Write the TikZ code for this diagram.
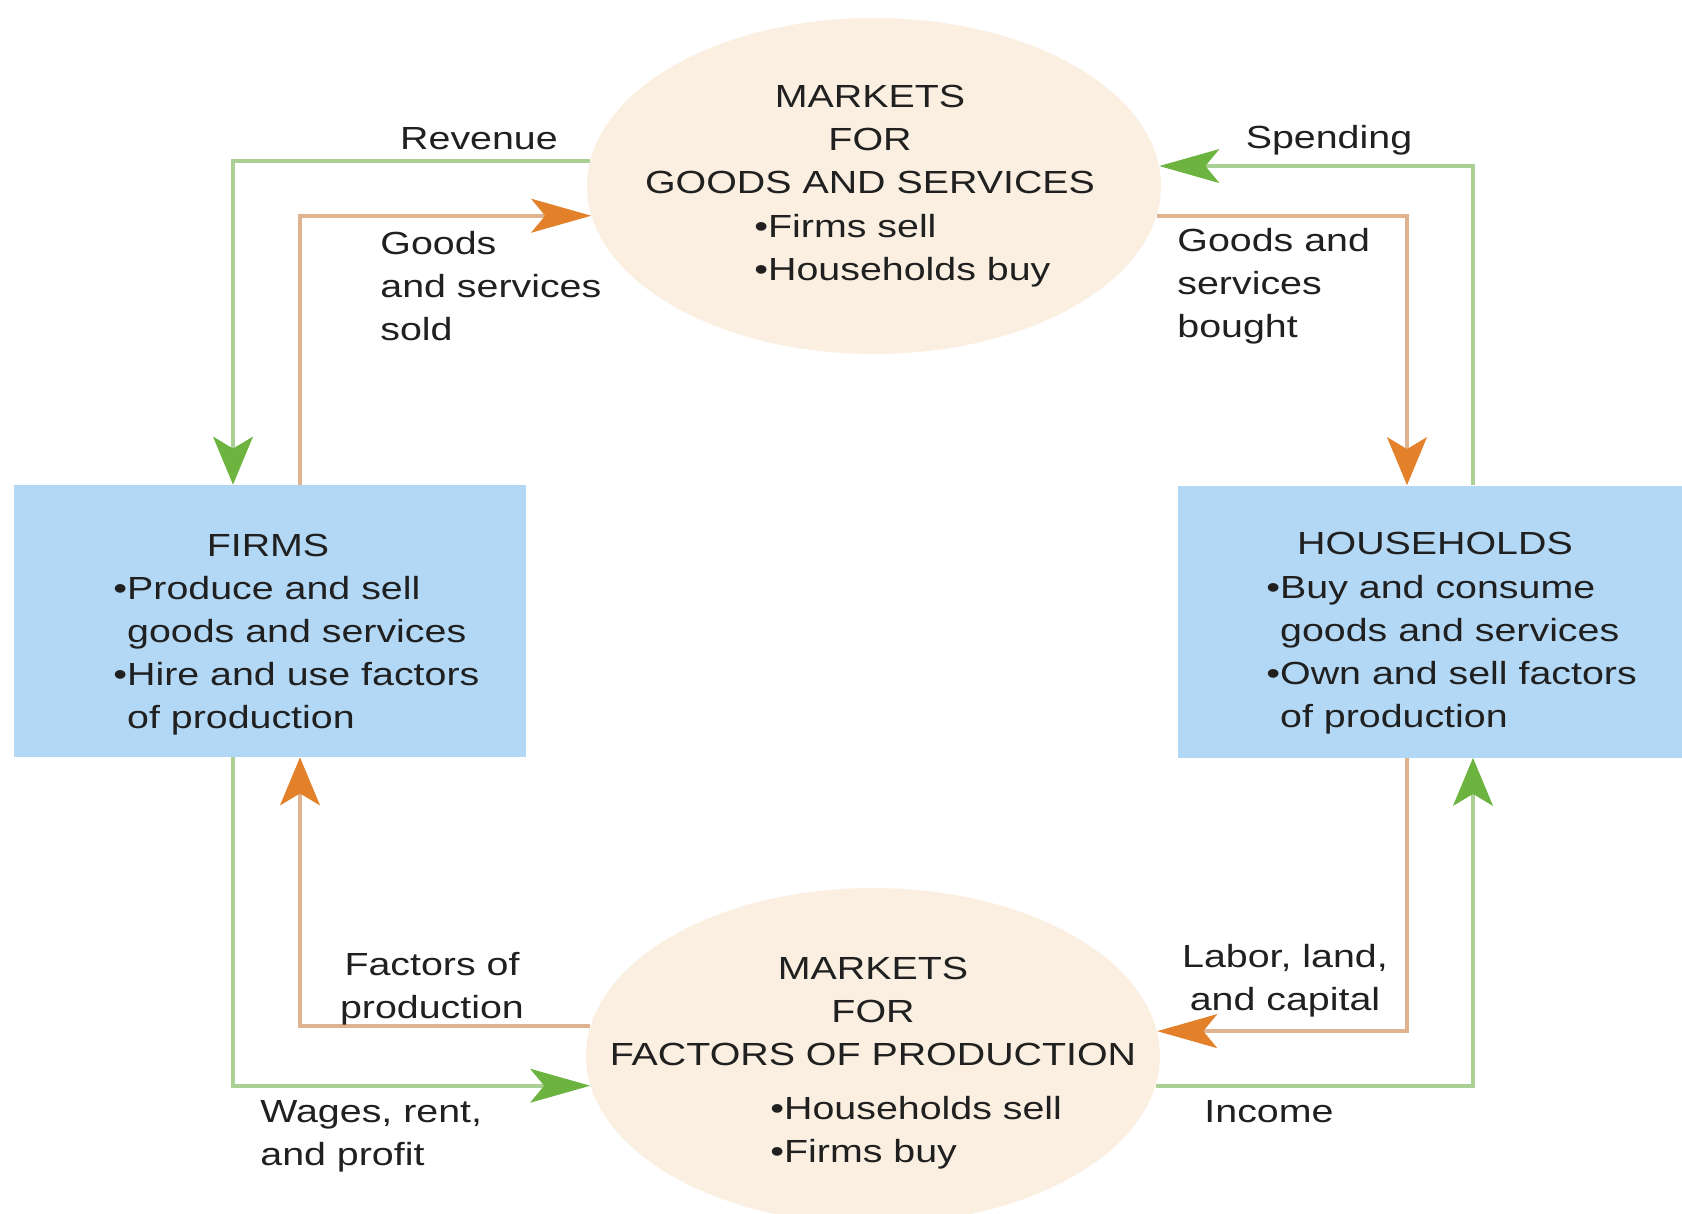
\documentclass[tikz,border=0pt]{standalone}
\usepackage{fontspec}
\setmainfont{Liberation Sans}[FakeStretch=1.23]
\usetikzlibrary{shapes.geometric,arrows.meta}
\definecolor{marketfill}{HTML}{FAEFE1}
\definecolor{agentfill}{HTML}{B3D8F5}
\definecolor{moneyline}{HTML}{ABD096}
\definecolor{moneytip}{HTML}{6CB43F}
\definecolor{realline}{HTML}{DFB290}
\definecolor{realtip}{HTML}{E3802A}
\definecolor{ink}{HTML}{202020}

\begin{document}
\begin{tikzpicture}[x=0.5pt,y=-0.5pt,
  every node/.style={font=\fontsize{16pt}{21.5pt}\selectfont, text=ink, inner sep=0pt},
  market/.style={ellipse, fill=marketfill, minimum width=287pt, minimum height=168pt},
  agent/.style={rectangle, fill=agentfill, minimum width=#1, minimum height=136pt},
  money/.style={draw=moneyline, line width=2pt},
  real/.style={draw=realline, line width=2pt},
  tipv/.style={-{Stealth[length=24pt,width=20pt,inset=6pt,line width=0.4pt,color=#1]}},
  tiph/.style={-{Stealth[length=30pt,width=17pt,inset=7pt,line width=0.4pt,color=#1]}},
  lbl/.style={align=left},
  clbl/.style={align=center}
]
\useasboundingbox (0,0) rectangle (1682,1214);

% the two markets and the two kinds of agents
\node[market] (mg) at (874,186) {};
\node[market] (mf) at (873,1056) {};
\node[agent=256pt] (firms) at (270,621) {};
\node[agent=252pt] (hh) at (1430,621.5) {};

% columns of the flow lines
\coordinate (L1) at (233,0);
\coordinate (L2) at (300,0);
\coordinate (R1) at (1407,0);
\coordinate (R2) at (1473,0);

% money flows (green)
\draw[money, tipv=moneytip] (mg.175.4) -| (firms.north -| L1);
\draw[money, tiph=moneytip] (hh.north -| R2) |- (mg.4.6);
\draw[money, tiph=moneytip] (firms.south -| L1) |- (mf.186.3);
\draw[money, tipv=moneytip] (mf.-6.3) -| (hh.south -| R2);

% flows of goods and factors (orange)
\draw[real, tiph=realtip] (firms.north -| L2) |- (mg.186.5);
\draw[real, tipv=realtip] (mg.-6.5) -| (hh.north -| R1);
\draw[real, tipv=realtip] (mf.174.1) -| (firms.south -| L2);
\draw[real, tiph=realtip] (hh.south -| R1) |- (mf.5.9);

% flow labels
\node (trev) at (479,139) {Revenue};
\node (tspend) at (1329,140) {Spending};
\node[lbl, anchor=west] (tsold) at (380,286) {Goods\\and services\\sold};
\node[lbl, anchor=west] (tbought) at (1177,286) {Goods and\\services\\bought};
\node[clbl] (tfact) at (432,989) {Factors of\\production};
\node[lbl, anchor=west] (twage) at (260,1136) {Wages, rent,\\and profit};
\node[clbl] (tlabor) at (1285,981) {Labor, land,\\and capital};
\node (tinc) at (1269,1112) {Income};

% market texts
\node[clbl] (tmg) at (870,139) {MARKETS\\FOR\\GOODS AND SERVICES};
\node[lbl, anchor=west] (tmgb) at (754,251) {•Firms sell\\•Households buy};
\node[clbl] (tmf) at (873,1011) {MARKETS\\FOR\\FACTORS OF PRODUCTION};
\node[lbl, anchor=west] (tmfb) at (770,1133) {•Households sell\\•Firms buy};

% agent texts
\node (tfirms) at (268,545) {FIRMS};
\node[lbl, anchor=west] (tfirmsb) at (113,656)
  {•Produce and sell\\\hphantom{•}goods and services\\•Hire and use factors\\\hphantom{•}of production};
\node (thh) at (1435,543) {HOUSEHOLDS};
\node[lbl, anchor=west] (thhb) at (1266,655)
  {•Buy and consume\\\hphantom{•}goods and services\\•Own and sell factors\\\hphantom{•}of production};
\end{tikzpicture}
\end{document}
